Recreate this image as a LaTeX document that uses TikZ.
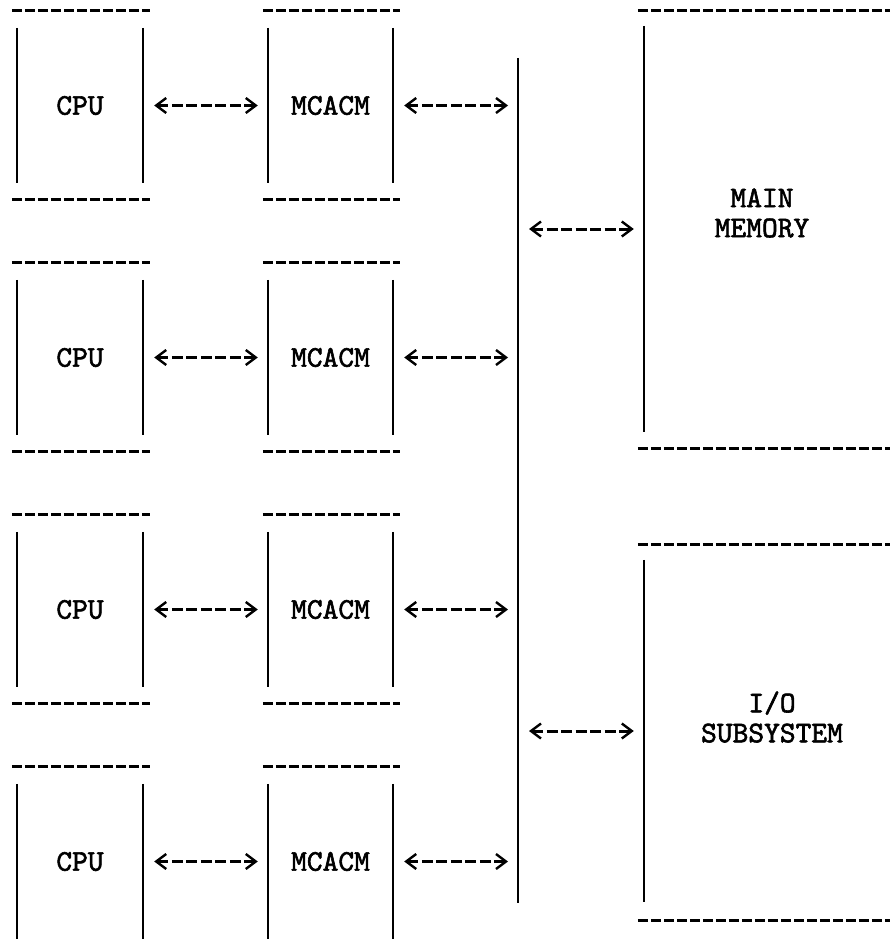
\documentclass[tikz,border=0pt]{standalone}
\usepackage{fontspec}
\newfontfamily\monofam{lmmono10-regular.otf}[FakeBold=2]
\usetikzlibrary{arrows.meta}
\tikzset{
  boxnode/.style={draw=none, inner sep=0pt, minimum height=155pt},
  bignode/.style={draw=none, inner sep=0pt, minimum width=246pt},
  lbl/.style={font=\monofam\fontsize{30}{30}\selectfont, align=center, inner sep=0pt},
  side/.style={line width=2.3pt},
  rulel/.style={line width=3.2pt, dash pattern=on 10pt off 3pt},
  conn/.style={line width=3pt, dash pattern=on 11pt off 3.5pt,
    {Straight Barb[length=10pt,width=15pt,line width=2.4pt]}-{Straight Barb[length=10pt,width=15pt,line width=2.4pt]},
    shorten <=11pt, shorten >=10pt}
}
\begin{document}
\begin{tikzpicture}[x=1pt,y=-1pt]
\useasboundingbox (0,0) rectangle (890,950);
% processor rows
\foreach \k/\n in {0/1,1/2,2/3,3/4}{
  \node[boxnode, minimum width=126pt, lbl, minimum height=155pt] (cpu\n) at (80,{105.5+252*\k}) {CPU};
  \node[boxnode, minimum width=125pt, lbl, minimum height=155pt] (mc\n) at (330.5,{105.5+252*\k}) {MCACM};
}
\foreach \b in {cpu1,cpu2,cpu3,cpu4,mc1,mc2,mc3,mc4}{
  \draw[side] (\b.north west) -- (\b.south west);
  \draw[side] (\b.north east) -- (\b.south east);
  \draw[rulel] ([shift={(-5pt,17pt)}]\b.north west) -- ([shift={(7pt,17pt)}]\b.north east);
}
\foreach \b in {cpu1,cpu2,cpu3,mc1,mc2,mc3}{
  \draw[rulel] ([shift={(-5pt,-16pt)}]\b.south west) -- ([shift={(7pt,-16pt)}]\b.south east);
}
% bus
\coordinate (bustop) at (518,58);
\coordinate (busbot) at (518,903);
\draw[side] (bustop) -- (busbot);
% main memory
\node[bignode, minimum height=406pt] (mem) at (767,229) {};
\node[lbl] (memlbl) at (762,213) {MAIN\\MEMORY};
\draw[side] (mem.north west) -- (mem.south west);
\draw[rulel] ([shift={(-6pt,15pt)}]mem.north west) -- ([shift={(0pt,15pt)}]mem.north east);
\draw[rulel] ([shift={(-6pt,-16pt)}]mem.south west) -- ([shift={(0pt,-16pt)}]mem.south east);
% I/O subsystem
\node[bignode, minimum height=342pt] (io) at (767,731) {};
\node[lbl] (iolbl) at (772,717) {I/O\\SUBSYSTEM};
\draw[side] (io.north west) -- (io.south west);
\draw[rulel] ([shift={(-6pt,15pt)}]io.north west) -- ([shift={(0pt,15pt)}]io.north east);
\draw[rulel] ([shift={(-6pt,-18pt)}]io.south west) -- ([shift={(0pt,-18pt)}]io.south east);
% connectors
\foreach \n in {1,2,3,4}{
  \draw[conn] (cpu\n.east) -- (mc\n.west);
  \draw[conn] (mc\n.east) -- (mc\n.east -| bustop);
}
\draw[conn] (mem.west -| bustop) -- (mem.west);
\draw[conn] (io.west -| bustop) -- (io.west);
\end{tikzpicture}
\end{document}
